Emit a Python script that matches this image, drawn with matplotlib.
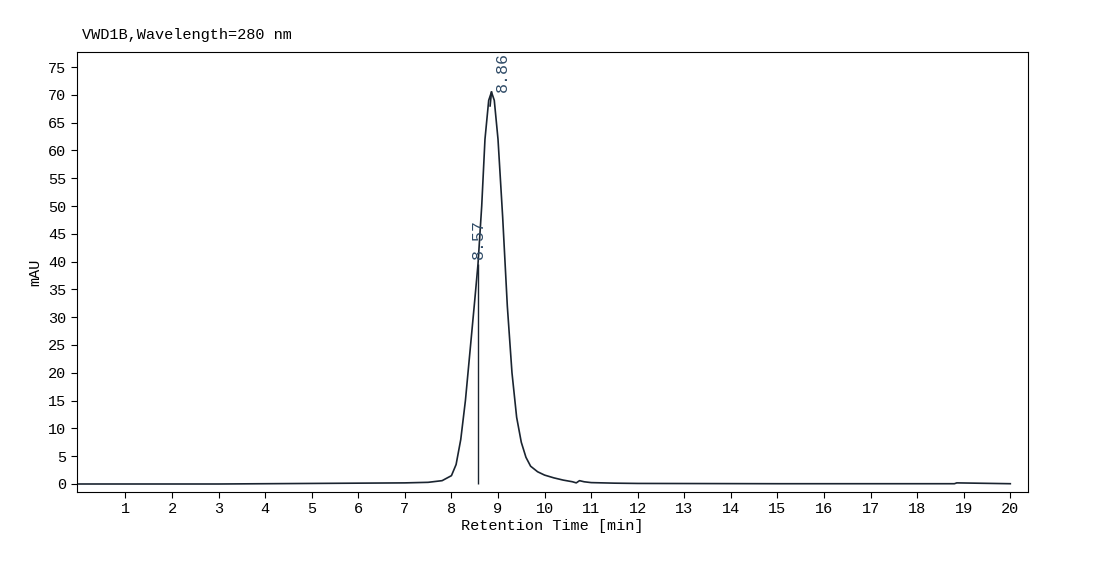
import matplotlib
matplotlib.use("Agg")
import matplotlib.pyplot as plt
import numpy as np

times = [0, 3, 5, 7, 7.5, 7.8, 8.0, 8.1, 8.2, 8.3, 8.4, 8.5, 8.57, 8.65, 8.72, 8.8, 8.86,
         8.92, 9.0, 9.1, 9.2, 9.3, 9.4, 9.5, 9.6, 9.7, 9.85, 10.0, 10.2, 10.4, 10.6, 10.68,
         10.75, 10.85, 11.0, 11.5, 12, 15, 18.8, 18.85, 20]
signal = [0, 0, 0.1, 0.2, 0.3, 0.6, 1.5, 3.5, 8, 15, 24, 33, 39.5, 50, 62, 69, 70.5,
          69, 62, 48, 32, 20, 12, 7.5, 4.8, 3.2, 2.2, 1.6, 1.1, 0.7, 0.4, 0.2,
          0.6, 0.4, 0.25, 0.15, 0.1, 0.05, 0.05, 0.2, 0.05]
peak_times = [8.57, 8.86]
peak_labels = ["8.57", "8.86"]

plt.rcParams['font.family'] = ['Liberation Mono', 'DejaVu Sans Mono']
fig = plt.figure(figsize=(11.15, 5.61), dpi=100)
ax = fig.add_axes([77/1115, 1-492/561, (1028-77)/1115, (492-52)/561])
ax.plot(times, signal, color='#1a2430', lw=1.2)
ax.set_xlim(-0.04, 20.38)
ax.set_ylim(-1.44, 77.7)
ax.set_xticks(range(1, 21))
ax.set_yticks(range(0, 80, 5))
ax.tick_params(labelsize=11, direction='out', length=4)
ax.set_xlabel('Retention Time [min]', fontsize=11, labelpad=2)
ax.set_ylabel('mAU', fontsize=11)
lc = '#2e4a66'
y857 = np.interp(peak_times[0], times, signal)
ax.vlines(peak_times[0], 0, y857, color='#1a2430', lw=1)
ax.plot([8.83, 8.86], [68, 70.5], color='#1a2430', lw=1.2)
ax.text(peak_times[0], y857 + 1, peak_labels[0], rotation=90, ha='center', va='bottom', fontsize=12, color=lc)
ax.text(8.93, 70.5, peak_labels[1], rotation=90, ha='left', va='bottom', fontsize=12, color=lc)
fig.text(82/1115, 1-35/561, 'VWD1B,Wavelength=280 nm', fontsize=11, va='center')
fig.savefig('out.png', dpi=100)
